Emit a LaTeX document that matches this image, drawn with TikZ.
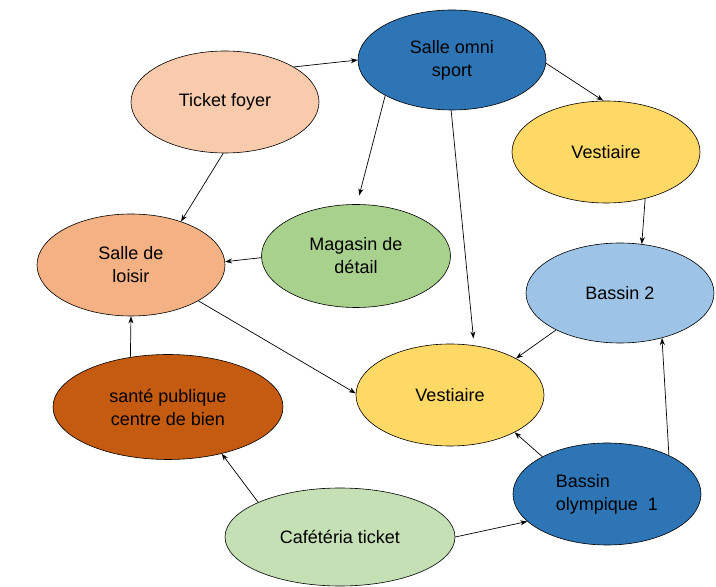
\documentclass[tikz,border=0pt]{standalone}
\usepackage{fontspec}
\setmainfont{Liberation Sans}
\usepackage{tikz}
\usetikzlibrary{arrows.meta, shapes.geometric}

\definecolor{peach}{HTML}{F8CBAD}
\definecolor{omniblue}{HTML}{2E75B6}
\definecolor{gold}{HTML}{FFD966}
\definecolor{skyblue}{HTML}{9DC3E6}
\definecolor{salmon}{HTML}{F4B183}
\definecolor{leaf}{HTML}{A9D18E}
\definecolor{rust}{HTML}{C55A11}
\definecolor{mint}{HTML}{C5E0B4}

\begin{document}
\begin{tikzpicture}[x=1pt, y=1pt, >={Stealth[length=7pt, width=5pt]},
    lieu/.style={ellipse, draw, line width=0.6pt, inner sep=0pt,
        minimum width=188pt, minimum height=102pt, align=center,
        font=\fontsize{18}{23}\selectfont},
    lien/.style={->, line width=0.7pt}]
    \useasboundingbox (0,0) rectangle (716,587);

    % les lieux
    \node[lieu, fill=peach] (foyer) at (225,485) {Ticket foyer};
    \node[lieu, fill=omniblue, minimum height=100pt] (omni) at (452,527) {Salle omni\\sport};
    \node[lieu, fill=gold] (vestA) at (606,435) {Vestiaire};
    \node[lieu, fill=skyblue, minimum height=100pt] (bassinB) at (620,294) {Bassin 2};
    \node[lieu, fill=salmon] (loisir) at (131,322) {Salle de\\loisir};
    \node[lieu, fill=leaf, minimum width=189pt, minimum height=103pt] (magasin) at (356,331) {Magasin de\\détail};
    \node[lieu, fill=rust, minimum width=230pt, minimum height=105pt] (sante) at (168,180) {santé publique\\centre de bien};
    \node[lieu, fill=gold] (vestB) at (450,192) {Vestiaire};
    \node[lieu, fill=omniblue, align=left] (olymp) at (607,93) {Bassin\\olympique\ \ 1};
    \node[lieu, fill=mint, minimum width=230pt, minimum height=98pt] (cafet) at (340,50) {Cafétéria ticket};

    % les liens
    \draw[lien] (foyer.27) -- (omni.180);
    \draw[lien] (omni.-2) -- (vestA.93);
    \draw[lien, shorten >=9pt] (omni.208) -- (magasin.89);
    \draw[lien, shorten >=7pt] (omni.269) -- (vestB.64);
    \draw[lien] (vestA.-50) -- (bassinB.66);
    \draw[lien] (foyer.268) -- (loisir.41);
    \draw[lien] (magasin.181) -- (loisir.2);
    \draw[lien] (loisir.-28) -- (vestB.179);
    \draw[lien] (sante.127) -- (loisir.south);
    \draw[lien] (cafet.157) -- (sante.-41);
    \draw[lien] (cafet.0) -- (olymp.199);
    \draw[lien] (olymp.150) -- (vestB.-30);
    \draw[lien] (olymp.32) -- (bassinB.-47);
    \draw[lien] (bassinB.210) -- (vestB.29);
\end{tikzpicture}
\end{document}
